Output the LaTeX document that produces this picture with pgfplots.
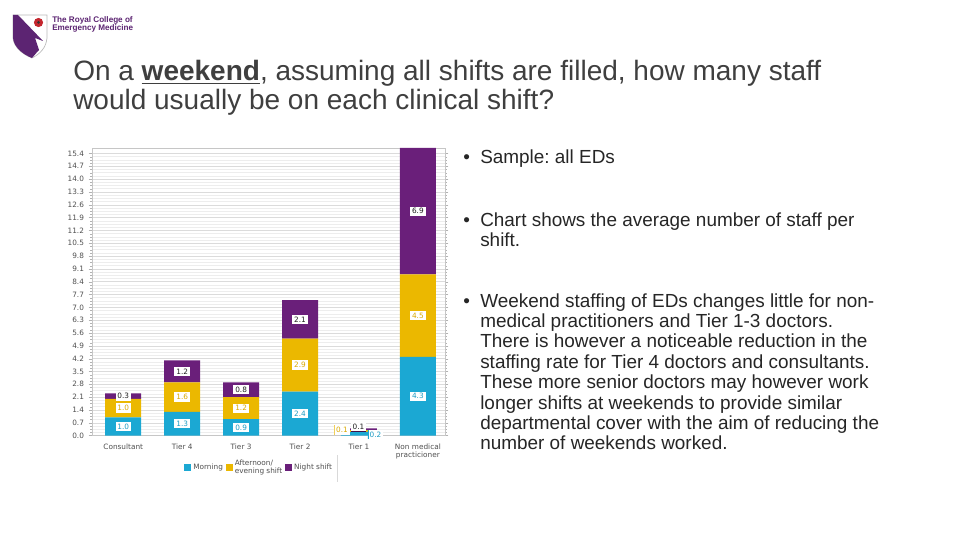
\documentclass[border=0pt]{standalone}
\usepackage{pgfplots}
\pgfplotsset{compat=1.18}
\usepackage{pgfplotstable}
\usepackage{fontspec}
\setmainfont{Liberation Sans}
\newfontfamily\chartfont{DejaVu Sans}
\definecolor{morn}{HTML}{1BA8D3}
\definecolor{morntext}{HTML}{1C9CC4}
\definecolor{aft}{HTML}{EBB800}
\definecolor{afttext}{HTML}{D9A900}
\definecolor{night}{HTML}{6A1F7A}
\definecolor{nighttext}{HTML}{1E1E1E}
\definecolor{titlegray}{HTML}{3F3F3F}
\definecolor{bodygray}{HTML}{262626}
\definecolor{logopurple}{HTML}{5C2472}
\definecolor{tickgray}{HTML}{505050}
\definecolor{poppy}{HTML}{C4262E}

\pgfplotstableread{
x m a n
0 1.0 1.0 0.3
1 1.3 1.6 1.2
2 0.9 1.2 0.8
3 2.4 2.9 2.1
4 0.2 0.1 0.1
5 4.3 4.5 6.9
}\shiftdata

\newcommand\cf{\chartfont\fontsize{5.5}{6.5}\selectfont}
\newcommand\bodyf{\fontsize{14.2}{15.3}\selectfont}

\pgfplotsset{myleg/.style={legend image code/.code={\fill[##1] (0pt,-2.5pt) rectangle (5pt,2.5pt);}}}

\begin{document}
\frenchspacing
\begin{tikzpicture}
\path[use as bounding box, fill=white] (0,0) rectangle (720pt,405pt);
\begin{axis}[
  at={(69pt,78.3pt)}, anchor=south west,
  scale only axis, width=264.75pt, height=215.7pt,
  xmin=-0.53, xmax=5.46, ymin=0, ymax=15.7,
  clip=false,
  ybar stacked, bar width=27pt,
  xtick=data,
  xticklabels={Consultant,Tier 4,Tier 3,Tier 2,Tier 1,{Non medical\\practicioner}},
  xticklabel style={align=center, font=\cf, text=tickgray},
  x tick style={draw=none},
  ytick={0,0.7,1.4,2.1,2.8,3.5,4.2,4.9,5.6,6.3,7.0,7.7,8.4,9.1,9.8,10.5,11.2,11.9,12.6,13.3,14.0,14.7,15.4},
  yticklabel style={font=\cf, text=tickgray, /pgf/number format/fixed, /pgf/number format/fixed zerofill, /pgf/number format/precision=1, /pgf/number format/assume math mode=true},
  minor y tick num=3,
  ymajorgrids, yminorgrids,
  major grid style={gray!28, line width=0.4pt},
  minor grid style={gray!14, line width=0.4pt},
  axis line style={gray!45},
  y tick style={gray!60}, tick align=outside, major tick length=2.5pt, minor tick length=1.2pt,
  point meta=rawy,
  visualization depends on={ifthenelse(x==4,0,1) \as \labop},
  nodes near coords={\ifdim\labop pt>0.5pt\pgfmathprintnumber[fixed,fixed zerofill,precision=1,assume math mode=true]{\pgfplotspointmeta}\fi},
  every node near coord/.append style={font=\cf, fill=white, inner sep=1.4pt, anchor=center, fill opacity=\labop},
  legend columns=3,
  legend style={at={(0.474,-0.112)}, anchor=center, draw=none, fill=none, font=\cf, text=tickgray, cells={align=left}, nodes={inner sep=1.7pt}, /tikz/every even column/.append style={column sep=0.5pt}},
]
\addplot[fill=morn, draw=none, myleg,
  every node near coord/.append style={text=morntext}] table[x=x,y=m]{\shiftdata};
\addplot[fill=aft, draw=none, myleg,
  every node near coord/.append style={text=afttext}] table[x=x,y=a]{\shiftdata};
\addplot[fill=night, draw=none, myleg,
  every node near coord/.append style={text=nighttext}] table[x=x,y=n]{\shiftdata};
\legend{Morning,{Afternoon/\\evening shift},Night shift}
\end{axis}

\begin{scope}[x=0.75pt,y=-0.75pt,shift={(0pt,405pt)}]
% Tier 1 value labels, set beside the thin bar as in the reference
\node[font=\cf, fill=white, inner sep=1.3pt, text=afttext,
  path picture={\draw[aft, line width=1pt] (path picture bounding box.north west) -- (path picture bounding box.south west);}]
  at (342,430) {0.1};
\node[font=\cf, fill=white, inner sep=1.3pt, text=nighttext,
  path picture={\draw[night!60!black, line width=1pt] (path picture bounding box.south west) -- (path picture bounding box.south east);}]
  at (358.5,427) {0.1};
\node[font=\cf, fill=white, inner sep=1.3pt, text=morntext,
  path picture={\draw[morn, line width=1pt] (path picture bounding box.north west) -- (path picture bounding box.south west);}]
  at (375.5,434.5) {0.2};
% legend separator
\draw[gray!30, line width=0.5pt] (337,455) -- (337,482);
% logo
\draw[gray!55, line width=0.5pt, fill=white] (13,15) -- (47,15) -- (47,38) .. controls (46,48) and (40,54) .. (32,58) .. controls (22,54) and (14,47) .. (13,38) -- cycle;
\fill[logopurple] (13,15) -- (18,15) -- (43,41) -- (35,38) -- (39,50) .. controls (36,53) and (34,56) .. (32,58) .. controls (22,54) and (14,47) .. (13,38) -- cycle;
\fill[poppy] (38.5,22.5) circle (4.6);
\fill[black!80] (38.5,22.5) circle (1.5);
\node[anchor=base west, inner sep=0, align=left, font=\fontsize{6.1}{6.1}\selectfont\bfseries, text=logopurple] at (52,31) {The Royal College of\\Emergency Medicine};
% title (base anchor = last line)
\node[anchor=base west, inner sep=0, align=left, font=\fontsize{21}{21.75}\selectfont, text=titlegray] at (73,110)
  {On a \textbf{\underline{weekend}}, assuming all shifts are filled, how many staff\\would usually be on each clinical shift?};
% bullets
\node[anchor=base west, inner sep=0, font=\bodyf, text=bodygray] at (463,164) {\textbullet};
\node[anchor=base west, inner sep=0, align=left, font=\bodyf, text=bodygray] at (480,164) {Sample: all EDs};
\node[anchor=base west, inner sep=0, font=\bodyf, text=bodygray] at (463,226) {\textbullet};
\node[anchor=base west, inner sep=0, align=left, font=\bodyf, text=bodygray] at (480,246.4) {Chart shows the average number of staff per\\shift.};
\node[anchor=base west, inner sep=0, font=\bodyf, text=bodygray] at (463,307) {\textbullet};
\node[anchor=base west, inner sep=0, align=left, font=\bodyf, text=bodygray] at (480,449.8) {Weekend staffing of EDs changes little for non-\\medical practitioners and Tier 1-3 doctors.\\There is however a noticeable reduction in the\\staffing rate for Tier 4 doctors and consultants.\\These more senior doctors may however work\\longer shifts at weekends to provide similar\\departmental cover with the aim of reducing the\\number of weekends worked.};
\end{scope}
\end{tikzpicture}
\end{document}
